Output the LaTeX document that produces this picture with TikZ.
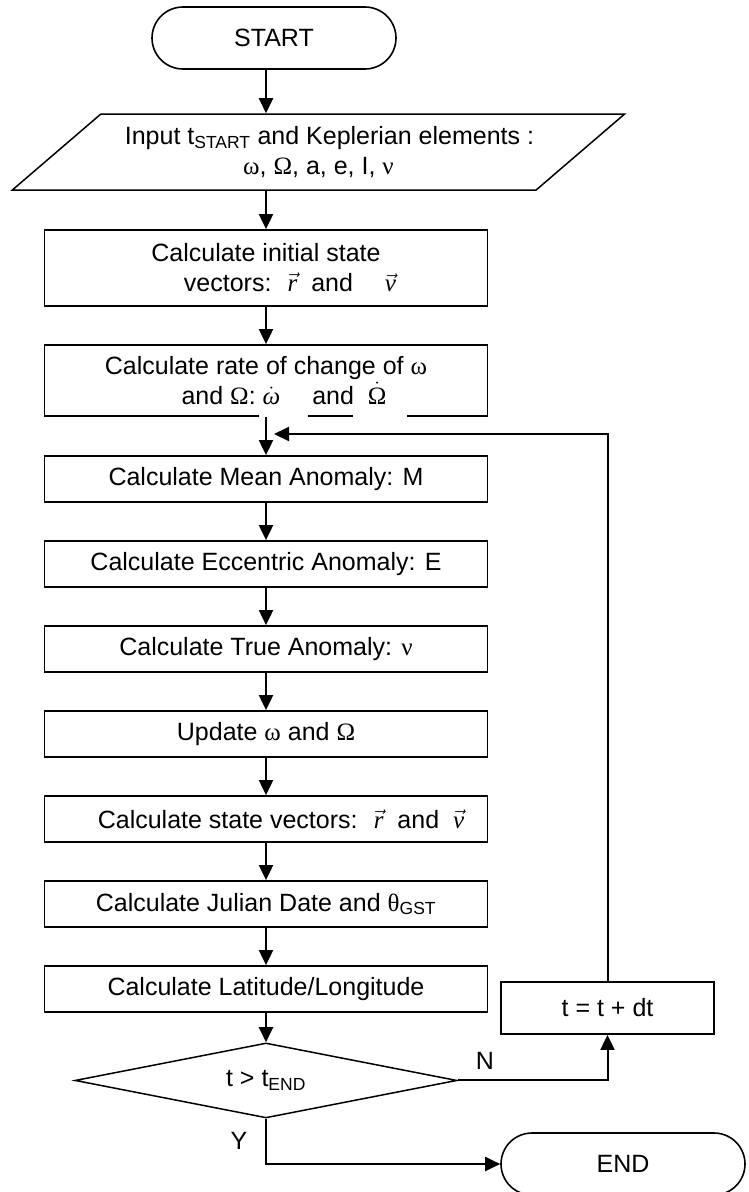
\documentclass[tikz,border=0pt]{standalone}
\usepackage{fix-cm}
\usepackage{fontspec}
\setmainfont{Liberation Sans}
\newfontfamily\greek{Liberation Serif}
\usepackage{tikz}
\usetikzlibrary{positioning,arrows.meta,shapes.geometric,calc}
\newcommand{\flowsize}{\fontsize{25pt}{30pt}\selectfont}
\newcommand{\gvec}[1]{$\vec{\hbox{\greek\itshape #1}}$}
\tikzset{
  term/.style={draw, line width=1.6pt, rounded corners=31pt, minimum width=244pt, minimum height=62pt, font=\flowsize},
  io/.style={draw, line width=1.5pt, trapezium, trapezium left angle=32, trapezium right angle=148, trapezium stretches=true, minimum width=609pt, minimum height=76pt, align=center, inner sep=2pt, font=\flowsize},
  proc/.style={draw, line width=1.8pt, minimum width=443pt, minimum height=46pt, align=center, inner sep=3pt, font=\flowsize},
  decision/.style={draw, line width=1.5pt, diamond, aspect=5.1, minimum width=382pt, minimum height=75pt, inner sep=0pt, font=\flowsize},
  lbl/.style={inner sep=0pt, font=\flowsize},
  arr/.style={-{Triangle[length=15pt, width=14pt]}, line width=2pt},
}

\begin{document}
\begin{tikzpicture}[x=1pt, y=-1pt]
  \useasboundingbox (0,0) rectangle (749,1192);
  \node[term] (start) at (274,38) {START};
  \node[io] (input) at (318.5,152) {\hspace*{22pt}Input t\textsubscript{START} and Keplerian elements :\\ {\greek ω}, {\greek Ω}, a, e, I, {\greek ν}};
  \node[proc, minimum height=76pt] (initvec) at (266,268) {Calculate initial state\\ \hspace*{48pt}vectors: \ \gvec{r} \ and \quad \gvec{v}};
  \node[proc, minimum height=71pt, below=37.2pt of initvec] (rates) {Calculate rate of change of {\greek ω}\\ \hspace*{36pt}and {\greek Ω}: $\dot{\hbox{\greek\itshape ω}}$ \quad and \ $\dot{\hbox{\greek Ω}}$};
  \node[proc, below=38.2pt of rates] (mean) {Calculate Mean Anomaly: M};
  \node[proc, below=37.2pt of mean] (ecc) {Calculate Eccentric Anomaly: E};
  \node[proc, below=37.2pt of ecc] (true) {Calculate True Anomaly: {\greek ν}};
  \node[proc, below=37.2pt of true] (upd) {Update {\greek ω} and {\greek Ω}};
  \node[proc, below=37.2pt of upd] (state) {\hspace*{30pt}Calculate state vectors: \ \gvec{r} \ and \ \gvec{v}};
  \node[proc, below=37.2pt of state] (julian) {Calculate Julian Date and {\greek θ}\textsubscript{GST}};
  \node[proc, below=37.2pt of julian] (latlon) {Calculate Latitude/Longitude};
  \node[decision, below=29.3pt of latlon] (check) {t > t\textsubscript{END}};
  \node[proc, minimum width=213pt, minimum height=52pt] (incr) at (607.5,1008) {t = t + dt};
  \node[term] (stop) at (623,1164) {END};
  \coordinate (merge) at (274,434);
  % white patches over the lower edge of the rates box
  \fill[white] (259,412) rectangle (308,420);
  \fill[white] (353,412) rectangle (407,420);
  % main flow
  \draw[arr] (start.south -| initvec.north) -- (input.north -| initvec.north);
  \draw[arr] (input.south -| initvec.north) -- (initvec.north);
  \draw[arr] (initvec) -- (rates);
  \draw[arr] (rates) -- (mean);
  \draw[arr] (mean) -- (ecc);
  \draw[arr] (ecc) -- (true);
  \draw[arr] (true) -- (upd);
  \draw[arr] (upd) -- (state);
  \draw[arr] (state) -- (julian);
  \draw[arr] (julian) -- (latlon);
  \draw[arr] (latlon) -- (check);
  % loop back
  \draw[arr] (check.east) -| (incr.south);
  \draw[arr] (incr.north) |- (merge);
  \draw[arr] (check.south) |- (stop.west);
  \node[lbl] (nlab) at (485,1061) {N};
  \node[lbl] (ylab) at (239,1141) {Y};
\end{tikzpicture}
\end{document}
